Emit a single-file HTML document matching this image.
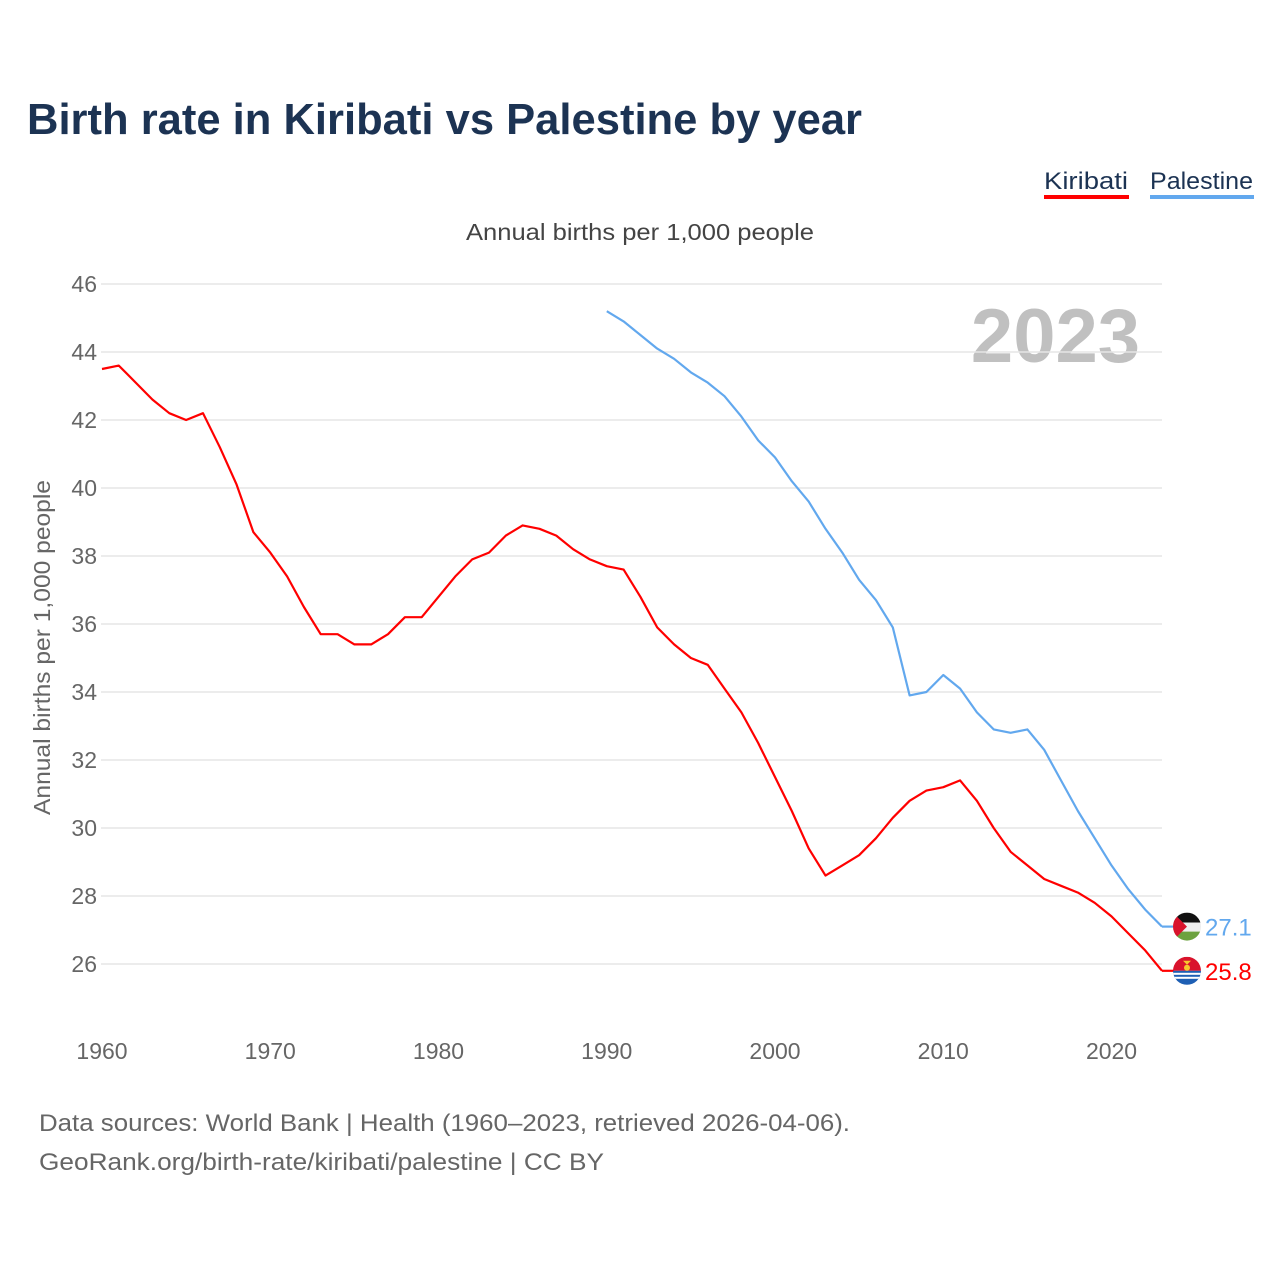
<!DOCTYPE html>
<html><head><meta charset="utf-8"><style>
body{margin:0;background:#fff;font-family:"Liberation Sans",sans-serif}
svg{display:block}
</style></head><body>
<svg id="chart" width="1280" height="1280" viewBox="0 0 1280 1280" xmlns="http://www.w3.org/2000/svg" font-family="Liberation Sans, sans-serif">
<rect width="1280" height="1280" fill="#fff"/>
<text x="27" y="134" font-size="44" font-weight="bold" fill="#1c3353" textLength="835" lengthAdjust="spacingAndGlyphs">Birth rate in Kiribati vs Palestine by year</text>
<g>
<text x="1044" y="189" font-size="24" fill="#1c3353" textLength="84" lengthAdjust="spacingAndGlyphs">Kiribati</text>
<rect x="1044" y="195" width="85" height="4" fill="#ff0000"/>
<text x="1150" y="189" font-size="24" fill="#1c3353" textLength="103" lengthAdjust="spacingAndGlyphs">Palestine</text>
<rect x="1150" y="195" width="104" height="4" fill="#62a8ee"/>
</g>
<text x="466" y="240" font-size="23" fill="#444" textLength="348" lengthAdjust="spacingAndGlyphs">Annual births per 1,000 people</text>
<text transform="translate(50,815) rotate(-90)" font-size="23" fill="#666" textLength="335" lengthAdjust="spacingAndGlyphs">Annual births per 1,000 people</text>
<text x="1140" y="362" font-size="76" font-weight="bold" fill="#c0c0c0" text-anchor="end">2023</text>
<g id="grid"></g><g id="xt"></g><g id="series"></g><g id="endlabels"></g>
<text x="39" y="1131" font-size="24" fill="#666" textLength="811" lengthAdjust="spacingAndGlyphs">Data sources: World Bank | Health (1960–2023, retrieved 2026-04-06).</text>
<text x="39" y="1170" font-size="24" fill="#666" textLength="565" lengthAdjust="spacingAndGlyphs">GeoRank.org/birth-rate/kiribati/palestine | CC BY</text>
</svg>
<script>
const yTicks=[26,28,30,32,34,36,38,40,42,44,46];
const xTicks=[1960,1970,1980,1990,2000,2010,2020];
const kiribatiYears=[];for(let y=1960;y<=2023;y++)kiribatiYears.push(y);
const kiribatiValues=[43.5,43.6,43.1,42.6,42.2,42.0,42.2,41.2,40.1,38.7,38.1,37.4,36.5,35.7,35.7,35.4,35.4,35.7,36.2,36.2,36.8,37.4,37.9,38.1,38.6,38.9,38.8,38.6,38.2,37.9,37.7,37.6,36.8,35.9,35.4,35.0,34.8,34.1,33.4,32.5,31.5,30.5,29.4,28.6,28.9,29.2,29.7,30.3,30.8,31.1,31.2,31.4,30.8,30.0,29.3,28.9,28.5,28.3,28.1,27.8,27.4,26.9,26.4,25.8];
const palestineYears=[];for(let y=1990;y<=2023;y++)palestineYears.push(y);
const palestineValues=[45.2,44.9,44.5,44.1,43.8,43.4,43.1,42.7,42.1,41.4,40.9,40.2,39.6,38.8,38.1,37.3,36.7,35.9,33.9,34.0,34.5,34.1,33.4,32.9,32.8,32.9,32.3,31.4,30.5,29.7,28.9,28.2,27.6,27.1];
const NS="http://www.w3.org/2000/svg";
const X=v=>102+(v-1960)*(1060/63);
const Y=v=>284+(46-v)*34;
function mk(t,a,p){const e=document.createElementNS(NS,t);for(const k in a)e.setAttribute(k,a[k]);p.appendChild(e);return e;}
const grid=document.getElementById('grid');
yTicks.forEach(t=>{
 const l=mk('line',{x1:101,x2:1162,y1:Y(t),y2:Y(t),stroke:'#e6e6e6','stroke-width':1.5},grid);
 
 
 const tx=mk('text',{x:97,y:Y(t)+8,'font-size':23,fill:'#666','text-anchor':'end'},grid);
 tx.textContent=t;
 
 
});
const xt=document.getElementById('xt');
xTicks.forEach(t=>{
 const tx=mk('text',{x:X(t),y:1059,'font-size':23,fill:'#666','text-anchor':'middle'},xt);
 tx.textContent=t;
 
 
});
const s=document.getElementById('series');
function line(years,vals,color,name){
 const d=years.map((y,i)=>(i?'L':'M')+X(y).toFixed(1)+','+Y(vals[i]).toFixed(1)).join('');
 const p=mk('path',{d:d,fill:'none',stroke:color,'stroke-width':2.2,'stroke-linejoin':'round'},s);
 
 
 const ly=Y(vals[vals.length-1]);
 const g=document.getElementById('endlabels');
 const lx=X(years[years.length-1]);
 mk('line',{x1:lx,x2:lx+12,y1:ly,y2:ly,stroke:color,'stroke-width':2.2},g);
 const t=mk('text',{x:1205,y:ly+9,'font-size':24,fill:color},g);
 t.textContent=vals[vals.length-1].toFixed(1);
 
 
 return ly;
}
const ky=line(kiribatiYears,kiribatiValues,'#ff0000','kiribati-line');
const py=line(palestineYears,palestineValues,'#62a8ee','palestine-line');
const g=document.getElementById('endlabels');
let f=mk('g',{},g);


const cpp=mk('clipPath',{id:'cp'},f);mk('circle',{cx:1187,cy:py,r:14},cpp);
const pg=mk('g',{'clip-path':'url(#cp)'},f);
mk('rect',{x:1173,y:py-14,width:28,height:10,fill:'#111'},pg);
mk('rect',{x:1173,y:py-4,width:28,height:9,fill:'#eee'},pg);
mk('rect',{x:1173,y:py+5,width:28,height:10,fill:'#6ca23f'},pg);
mk('polygon',{points:`1173,${py-14} 1187,${py} 1173,${py+14}`,fill:'#d9132c'},pg);
f=mk('g',{},g);


const ck=mk('clipPath',{id:'ck'},f);mk('circle',{cx:1187,cy:ky,r:14},ck);
const kg=mk('g',{'clip-path':'url(#ck)'},f);
mk('rect',{x:1173,y:ky-14,width:28,height:14,fill:'#d9132c'},kg);
mk('rect',{x:1173,y:ky,width:28,height:15,fill:'#1e5fb4'},kg);
mk('rect',{x:1173,y:ky+2,width:28,height:2,fill:'#fff'},kg);
mk('rect',{x:1173,y:ky+6,width:28,height:2,fill:'#fff'},kg);
mk('circle',{cx:1187,cy:ky-3,r:3,fill:'#f7c72e'},kg);
mk('polygon',{points:`1183,${ky-10} 1191,${ky-10} 1187,${ky-6}`,fill:'#f7c72e'},kg);
</script>
</body></html>
